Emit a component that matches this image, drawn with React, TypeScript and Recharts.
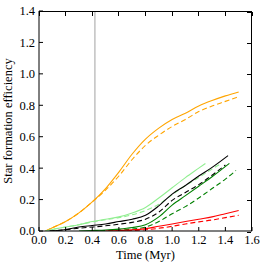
import React from 'react';
import { LineChart, Line, XAxis, YAxis, ReferenceLine, Label } from 'recharts';

// Time (Myr) samples and efficiencies for each run
const orangeTime = [0.05, 0.1, 0.2, 0.3, 0.4, 0.5, 0.6, 0.7, 0.8, 0.9, 1.0, 1.1, 1.2, 1.3, 1.4, 1.5];
const orangeSolid = [0, 0.02, 0.06, 0.115, 0.185, 0.27, 0.375, 0.49, 0.585, 0.655, 0.71, 0.75, 0.795, 0.83, 0.86, 0.885];
const orangeDashed = [0, 0.02, 0.06, 0.115, 0.185, 0.26, 0.35, 0.455, 0.545, 0.61, 0.665, 0.71, 0.76, 0.795, 0.825, 0.855];

const lightTime = [0.05, 0.1, 0.2, 0.3, 0.4, 0.5, 0.6, 0.7, 0.8, 0.9, 1.0, 1.1, 1.2, 1.25];
const lightSolid = [0, 0.01, 0.025, 0.04, 0.06, 0.075, 0.09, 0.115, 0.15, 0.21, 0.275, 0.34, 0.4, 0.43];
const lightDashedTime = [0.05, 0.1, 0.2, 0.3, 0.4, 0.5, 0.6, 0.7, 0.8, 0.9, 1.0, 1.1, 1.2, 1.3, 1.37];
const lightDashed = [0, 0.01, 0.025, 0.04, 0.058, 0.072, 0.085, 0.103, 0.13, 0.17, 0.23, 0.29, 0.34, 0.395, 0.43];

const blackTime = [0.08, 0.2, 0.3, 0.4, 0.5, 0.6, 0.7, 0.8, 0.9, 1.0, 1.1, 1.2, 1.3, 1.42];
const blackSolid = [0, 0.01, 0.025, 0.035, 0.045, 0.06, 0.075, 0.1, 0.16, 0.235, 0.29, 0.35, 0.405, 0.48];
const blackDashedTime = [0.08, 0.2, 0.3, 0.4, 0.5, 0.6, 0.7, 0.8, 0.9, 1.0, 1.1, 1.2, 1.3, 1.4];
const blackDashed = [0, 0.008, 0.018, 0.025, 0.033, 0.043, 0.055, 0.075, 0.12, 0.195, 0.245, 0.295, 0.355, 0.42];

const greenTime = [0.3, 0.4, 0.5, 0.6, 0.7, 0.8, 0.9, 1.0, 1.1, 1.2, 1.3, 1.43];
const greenSolid = [0, 0.003, 0.006, 0.012, 0.022, 0.04, 0.09, 0.165, 0.225, 0.285, 0.345, 0.43];
const greenDashedTime = [0.4, 0.5, 0.6, 0.7, 0.8, 0.9, 1.0, 1.1, 1.2, 1.3, 1.4, 1.48];
const greenDashed = [0, 0.003, 0.006, 0.012, 0.025, 0.06, 0.11, 0.155, 0.21, 0.27, 0.33, 0.385];

const redTime = [0.5, 0.6, 0.7, 0.8, 0.9, 1.0, 1.1, 1.2, 1.3, 1.4, 1.5];
const redSolid = [0, 0.003, 0.007, 0.015, 0.03, 0.045, 0.06, 0.075, 0.09, 0.11, 0.13];
const redDashedTime = [0.6, 0.7, 0.8, 0.9, 1.0, 1.1, 1.2, 1.3, 1.4, 1.5];
const redDashed = [0, 0.003, 0.008, 0.017, 0.03, 0.045, 0.058, 0.07, 0.085, 0.1];

const xTicks = [0, 0.2, 0.4, 0.6, 0.8, 1.0, 1.2, 1.4, 1.6];
const yTicks = [0, 0.2, 0.4, 0.6, 0.8, 1.0, 1.2, 1.4];
const markerTime = 0.42;

const X_MAX = 1.6;
const Y_MAX = 1.4;

// chart geometry (plot box = size minus margins and axis sizes)
const W = 266;
const H = 267;
const M = { top: 11, right: 14, left: 0, bottom: 0 };
const Y_AXIS_W = 39;
const X_AXIS_H = 36;
const PLOT_L = M.left + Y_AXIS_W;
const PLOT_T = M.top;
const PLOT_W = W - PLOT_L - M.right;
const PLOT_H = H - PLOT_T - M.bottom - X_AXIS_H;
const TICK = 4;

const zip = (xs: number[], ys: number[]) => xs.map((x, i) => ({ x, y: ys[i] }));

const series = [
  { key: 'orange-s', data: zip(orangeTime, orangeSolid), color: '#ffa500', dash: undefined },
  { key: 'orange-d', data: zip(orangeTime, orangeDashed), color: '#ffa500', dash: '5 3' },
  { key: 'light-s', data: zip(lightTime, lightSolid), color: '#90ee90', dash: undefined },
  { key: 'light-d', data: zip(lightDashedTime, lightDashed), color: '#90ee90', dash: '5 3' },
  { key: 'black-s', data: zip(blackTime, blackSolid), color: '#000000', dash: undefined },
  { key: 'black-d', data: zip(blackDashedTime, blackDashed), color: '#000000', dash: '5 3' },
  { key: 'green-s', data: zip(greenTime, greenSolid), color: '#008000', dash: undefined },
  { key: 'green-d', data: zip(greenDashedTime, greenDashed), color: '#008000', dash: '5 3' },
  { key: 'red-s', data: zip(redTime, redSolid), color: '#ff0000', dash: undefined },
  { key: 'red-d', data: zip(redDashedTime, redDashed), color: '#ff0000', dash: '5 3' },
];

const font = { fontFamily: '"Liberation Serif", serif', fontSize: 12.5, fill: '#000' };
const fmt = (v: number) => v.toFixed(1);

// top and right spines with inward ticks, laid over the plot box
function Frame() {
  return (
    <div
      style={{
        position: 'absolute',
        left: PLOT_L,
        top: PLOT_T,
        width: PLOT_W,
        height: PLOT_H,
        borderTop: '1px solid #000',
        borderRight: '1px solid #000',
        boxSizing: 'border-box',
        pointerEvents: 'none',
        zIndex: 10,
      }}
    >
      {xTicks.map((t) => (
        <div
          key={'t' + t}
          style={{
            position: 'absolute',
            left: (t / X_MAX) * PLOT_W - 0.5,
            top: 0,
            width: 1,
            height: TICK,
            background: '#000',
          }}
        />
      ))}
      {yTicks.map((t) => (
        <div
          key={'r' + t}
          style={{
            position: 'absolute',
            right: 0,
            top: (1 - t / Y_MAX) * PLOT_H - 0.5,
            width: TICK,
            height: 1,
            background: '#000',
          }}
        />
      ))}
    </div>
  );
}

export default function App() {
  return (
    <div style={{ position: 'absolute', left: 0, top: 0, width: W, height: H, background: '#fff' }}>
      <LineChart width={W} height={H} margin={M}>
        <XAxis
          dataKey="x"
          type="number"
          domain={[0, X_MAX]}
          ticks={xTicks}
          tickFormatter={fmt}
          allowDataOverflow
          height={X_AXIS_H}
          tickSize={-TICK}
          tickMargin={8}
          stroke="#000"
          tick={font}
        >
          <Label value="Time (Myr)" position="insideBottom" offset={8} style={font} />
        </XAxis>
        <YAxis
          type="number"
          domain={[0, Y_MAX]}
          ticks={yTicks}
          tickFormatter={fmt}
          allowDataOverflow
          width={Y_AXIS_W}
          tickSize={-TICK}
          tickMargin={8}
          stroke="#000"
          tick={font}
        >
          <Label
            value="Star formation efficiency"
            angle={-90}
            position="insideLeft"
            offset={8}
            style={{ ...font, textAnchor: 'middle' }}
          />
        </YAxis>
        <ReferenceLine x={markerTime} stroke="#b0b0b0" strokeWidth={1.2} />
        {series.map((s) => (
          <Line
            key={s.key}
            data={s.data}
            dataKey="y"
            type="monotone"
            stroke={s.color}
            strokeWidth={1.1}
            strokeDasharray={s.dash}
            dot={false}
            activeDot={false}
            isAnimationActive={false}
          />
        ))}
      </LineChart>
      <Frame />
    </div>
  );
}
